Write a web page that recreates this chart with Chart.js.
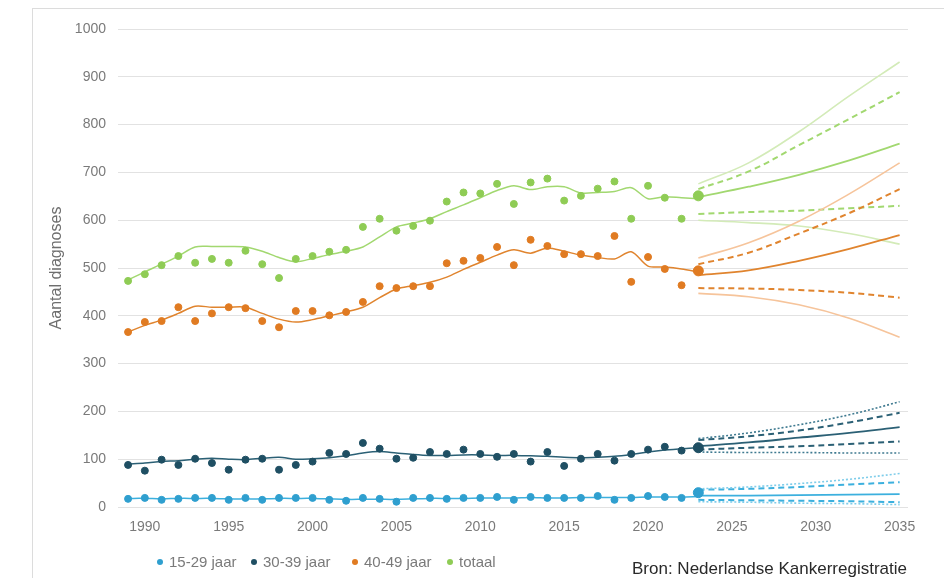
<!DOCTYPE html>
<html>
<head>
<meta charset="utf-8">
<script src="https://cdn.jsdelivr.net/npm/chart.js@4.4.1/dist/chart.umd.min.js"></script>
<style>
  html, body { margin: 0; padding: 0; background: #fff; overflow: hidden; }
  #wrap { position: relative; width: 944px; height: 578px; }
  #frame { position: absolute; left: 32px; top: 8px; width: 940px; height: 620px; border: 1px solid #dcdcdc; box-sizing: border-box; }
  #chart { position: absolute; left: 0; top: 0; }
  #legend { position: absolute; left: 0; top: 553px; width: 600px; height: 20px;
    font: 15px "Liberation Sans", Arial, sans-serif; color: #7a7a7a; }
  #legend span.item { position: absolute; top: 0; display: flex; align-items: center; white-space: nowrap; }
  #legend i { display: inline-block; width: 6px; height: 6px; border-radius: 50%; margin-right: 6px; }
  #source { position: absolute; left: 632px; top: 559px; font: 17px "Liberation Sans", Arial, sans-serif; color: #2a2a2a; }
</style>
</head>
<body>
<div id="wrap">
  <div id="frame"></div>
  <canvas id="chart" width="944" height="578"></canvas>
  <div id="legend"></div>
  <div id="source">Bron: Nederlandse Kankerregistratie</div>
</div>
<script>
// observed years and tick labels
const years = [1989, 1990, 1991, 1992, 1993, 1994, 1995, 1996, 1997, 1998, 1999, 2000, 2001, 2002, 2003, 2004, 2005,
  2006, 2007, 2008, 2009, 2010, 2011, 2012, 2013, 2014, 2015, 2016, 2017, 2018, 2019, 2020, 2021, 2022, 2023];
const xTicks = [1990, 1995, 2000, 2005, 2010, 2015, 2020, 2025, 2030, 2035];
const projYears = [2023, 2026, 2029, 2032, 2035];

// observed counts per age group
const obs1529 = [17, 19, 15, 17, 19, 19, 15, 19, 15, 19, 19, 19, 15, 13, 19, 17, 11,
  19, 19, 17, 19, 19, 21, 15, 21, 19, 19, 19, 23, 15, 19, 23, 21, 19, 30];
const obs3039 = [88, 76, 99, 88, 101, 92, 78, 99, 101, 78, 88, 95, 113, 111, 134, 122, 101,
  103, 115, 111, 120, 111, 105, 111, 95, 115, 86, 101, 111, 97, 111, 120, 126, 118, 124];
const obs4049 = [366, 387, 389, 418, 389, 405, 418, 416, 389, 376, 410, 410, 401, 408, 429, 462, 458,
  462, 462, 510, 515, 521, 544, 506, 559, 546, 529, 529, 525, 567, 471, 523, 498, 464, 494];
const obsTotaal = [473, 487, 506, 525, 511, 519, 511, 536, 508, 479, 519, 525, 534, 538, 586, 603, 578,
  588, 599, 639, 658, 656, 676, 634, 679, 687, 641, 651, 666, 681, 603, 672, 647, 603, 651];

// smoothed trend lines
const trend1529 = [18, 18, 17, 18, 18, 18, 17, 17, 17, 18, 18, 18, 17, 16, 16, 16, 16,
  17, 18, 18, 18, 19, 19, 19, 20, 19, 19, 20, 20, 20, 20, 21, 21, 21, 22];
const trend3039 = [90, 92, 95, 97, 100, 102, 100, 99, 102, 104, 100, 101, 103, 107, 113, 116, 113,
  110, 108, 108, 109, 109, 108, 108, 107, 106, 104, 103, 104, 106, 110, 115, 119, 122, 124];
const trend4049 = [366, 380, 391, 405, 420, 418, 418, 418, 405, 393, 387, 392, 400, 408, 418, 438, 456,
  463, 470, 481, 497, 512, 527, 538, 531, 542, 535, 527, 522, 519, 534, 504, 502, 498, 492];
const trendTotaal = [475, 492, 508, 525, 544, 545, 545, 544, 535, 522, 513, 520, 528, 535, 544, 565, 586,
  594, 603, 618, 632, 647, 662, 672, 664, 670, 670, 657, 658, 660, 668, 645, 649, 647, 645];

// projections 2023-2035: outer high, inner high, mid, inner low, outer low
const proj1529 = {
  hi: [38, 42, 49, 58, 70], up: [36, 38, 42, 47, 52], mid: [24, 24, 25, 26, 27],
  low: [15, 14, 13, 12, 10], lo: [11, 10, 8, 7, 5]
};
const proj3039 = {
  hi: [143, 155, 172, 193, 220], up: [140, 148, 160, 177, 197], mid: [127, 135, 145, 155, 167],
  low: [120, 124, 127, 132, 137], lo: [115, 114, 114, 113, 113]
};
const proj4049 = {
  hi: [521, 553, 598, 655, 720], up: [508, 532, 572, 615, 665], mid: [485, 495, 515, 540, 569],
  low: [458, 457, 454, 448, 438], lo: [447, 440, 423, 395, 355]
};
const projTotaal = {
  hi: [676, 720, 785, 860, 931], up: [665, 702, 757, 812, 868], mid: [648, 670, 695, 725, 760],
  low: [613, 617, 620, 625, 630], lo: [600, 595, 588, 572, 550]
};

const groups = [
  { label: '15-29 jaar', obs: obs1529, trend: trend1529, proj: proj1529, color: '#2f9fcf', line: '#3cb0de', light: '#7fcdea', outerDash: [2, 2], legendX: 157 },
  { label: '30-39 jaar', obs: obs3039, trend: trend3039, proj: proj3039, color: '#1f4f63', line: '#2b6075', light: '#3f7a90', outerDash: [2, 2], legendX: 251 },
  { label: '40-49 jaar', obs: obs4049, trend: trend4049, proj: proj4049, color: '#e07b22', line: '#e0842e', light: '#f6c49b', outerDash: [], legendX: 352 },
  { label: 'totaal', obs: obsTotaal, trend: trendTotaal, proj: projTotaal, color: '#8fcc55', line: '#a2d870', light: '#d3ebb8', outerDash: [], legendX: 447 }
];

const pts = (xs, ys) => xs.map((x, i) => ({ x: x, y: ys[i] }));

const datasets = [];
groups.forEach(g => {
  datasets.push({
    label: g.label, data: pts(years, g.obs), showLine: false, order: 0,
    pointRadius: years.map(y => y === 2023 ? 5 : 3.5), pointHoverRadius: 0,
    pointBackgroundColor: g.color, pointBorderColor: g.color, borderColor: g.color, backgroundColor: g.color
  });
  datasets.push({
    label: g.label + ' trend', data: pts(years, g.trend), order: 2, pointRadius: 0,
    borderColor: g.line, borderWidth: 1.5, tension: 0.3
  });
  const styles = [
    ['hi', g.light, g.outerDash, 1.6],
    ['up', g.line, [6, 4], 2],
    ['mid', g.line, [], 1.8],
    ['low', g.line, [6, 4], 2],
    ['lo', g.light, g.outerDash, 1.6]
  ];
  styles.forEach(([k, col, dash, w]) => {
    datasets.push({
      label: g.label + ' ' + k, data: pts(projYears, g.proj[k]), order: 3, pointRadius: 0,
      borderColor: col, borderDash: dash, borderWidth: w, tension: 0.4
    });
  });
});

const tickFont = { family: '"Liberation Sans", Arial, sans-serif', size: 14 };

new Chart(document.getElementById('chart'), {
  type: 'line',
  data: { datasets: datasets },
  options: {
    responsive: false,
    animation: false,
    layout: { padding: { top: 29, right: 36, left: 0, bottom: 0 } },
    plugins: { legend: { display: false }, tooltip: { enabled: false } },
    scales: {
      x: {
        type: 'linear', min: 1988.4, max: 2035.5,
        afterBuildTicks: s => { s.ticks = xTicks.map(v => ({ value: v })); },
        afterFit: s => { s.height = 71; },
        grid: { display: false, drawTicks: false },
        border: { display: false },
        ticks: { padding: 12, color: '#7a7a7a', font: tickFont, maxRotation: 0, callback: v => String(v) }
      },
      y: {
        min: 0, max: 1000,
        afterFit: s => { s.width = 118; },
        ticks: { stepSize: 100, padding: 12, color: '#7a7a7a', font: tickFont, callback: v => String(v) },
        grid: { color: '#e2e2e2', drawTicks: false },
        border: { display: false },
        title: { display: true, text: 'Aantal diagnoses', color: '#6e6e6e',
          font: { family: '"Liberation Sans", Arial, sans-serif', size: 16 }, padding: { top: 47, bottom: 0 } }
      }
    }
  }
});

// legend built from the observed series
const legendEl = document.getElementById('legend');
groups.forEach(g => {
  const item = document.createElement('span');
  item.className = 'item';
  item.style.left = g.legendX + 'px';
  const dot = document.createElement('i');
  dot.style.background = g.color;
  item.appendChild(dot);
  item.appendChild(document.createTextNode(g.label));
  legendEl.appendChild(item);
});
</script>
</body>
</html>
